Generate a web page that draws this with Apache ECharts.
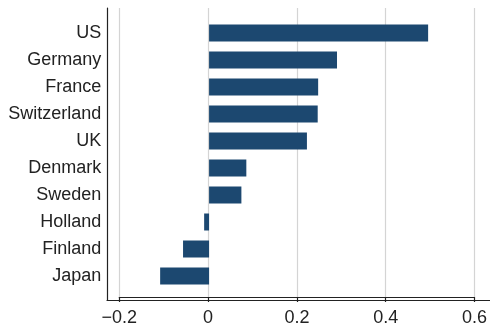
<!DOCTYPE html>
<html>
<head>
<meta charset="utf-8">
<script src="https://cdn.jsdelivr.net/npm/echarts@6/dist/echarts.min.js"></script>
<style>
  html, body { margin: 0; padding: 0; background: #fff; }
  #chart { width: 490px; height: 327px; }
</style>
</head>
<body>
<div id="chart"></div>
<script>
// countries top to bottom
const countries = ['US', 'Germany', 'France', 'Switzerland', 'UK', 'Denmark', 'Sweden', 'Holland', 'Finland', 'Japan'];
const values = [0.488, 0.285, 0.243, 0.242, 0.218, 0.083, 0.072, -0.011, -0.058, -0.109];
const tickMin = -0.2;
const tickMax = 0.6;
const tickStep = 0.2;

const chart = echarts.init(document.getElementById('chart'));
const font = 'Liberation Sans, Arial, sans-serif';
const ink = '#222';

// px per unit, used to extend the frame beyond the outer ticks
const plotLeft = 119.3, plotRight = 478.4;
const unit = (plotRight - plotLeft) / (tickMax - tickMin);
const frameMin = tickMin - (plotLeft - 107) / unit;
const frameMax = tickMax + (490 - plotRight) / unit;

const option = {
    animation: false,
    grid: [
        // frame: axis lines only
        {left: 107, right: 0, top: 8, bottom: 27},
        // ticks, labels, grid lines
        {left: plotLeft, right: 490 - plotRight, top: 8, bottom: 27},
        // bars
        {left: plotLeft, right: 490 - plotRight, top: 19.5, height: 270}
    ],
    xAxis: [
        {
            gridIndex: 0, type: 'value', min: frameMin, max: frameMax,
            axisLine: {show: true, onZero: false, lineStyle: {color: ink, width: 1.2}},
            axisTick: {show: false}, axisLabel: {show: false}, splitLine: {show: false}
        },
        {
            gridIndex: 1, type: 'value', min: tickMin, max: tickMax, interval: tickStep,
            axisLine: {show: true, onZero: false, lineStyle: {color: ink, width: 1.2}},
            axisTick: {show: true, length: 5, lineStyle: {color: ink, width: 1.2}},
            axisLabel: {
                color: ink, fontSize: 18, fontFamily: font, margin: 12,
                formatter: v => {
                    const r = Math.round(v * 10) / 10;
                    if (r === 0) return '0';
                    return (r < 0 ? '\u2212' : '') + Math.abs(r).toFixed(1);
                }
            },
            splitLine: {show: true, lineStyle: {color: '#d4d4d4', width: 1.2}}
        },
        {
            gridIndex: 2, type: 'value', min: tickMin, max: tickMax,
            show: false
        }
    ],
    yAxis: [
        {
            gridIndex: 0, type: 'value', min: 0, max: 1,
            axisLine: {show: true, onZero: false, lineStyle: {color: ink, width: 1.2}},
            axisTick: {show: false}, axisLabel: {show: false}, splitLine: {show: false}
        },
        {
            gridIndex: 1, type: 'value', min: 0, max: 1, show: false, splitLine: {show: false}
        },
        {
            gridIndex: 2, type: 'category', data: countries, inverse: true,
            axisLine: {show: false, onZero: false}, axisTick: {show: false},
            axisLabel: {color: ink, fontSize: 18, fontFamily: font, margin: 18}
        }
    ],
    series: [
        {
            type: 'bar',
            xAxisIndex: 2,
            yAxisIndex: 2,
            data: values,
            barWidth: '63%',
            itemStyle: {color: '#1c4870'}
        }
    ]
};

chart.setOption(option);
</script>
</body>
</html>
